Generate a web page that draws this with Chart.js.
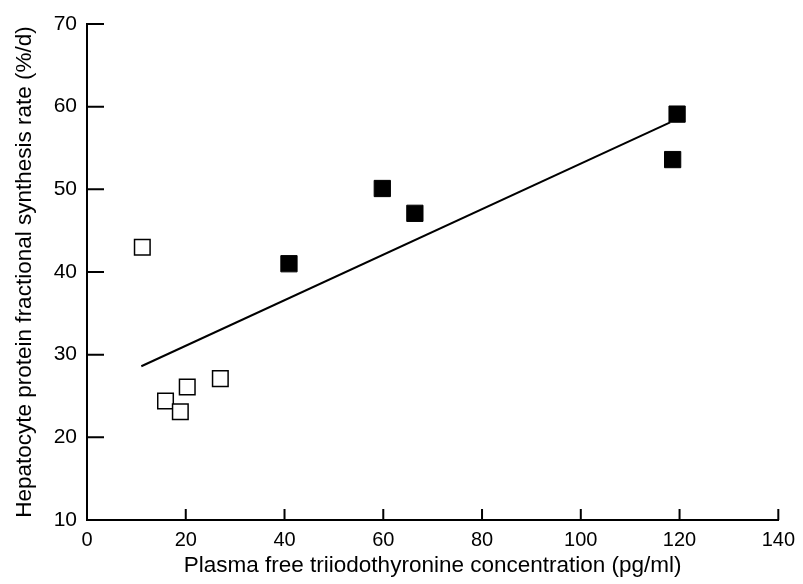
<!DOCTYPE html>
<html>
<head>
<meta charset="utf-8">
<script src="https://cdn.jsdelivr.net/npm/chart.js@4"></script>
<style>
  html, body { margin: 0; padding: 0; background: #fff; }
  #wrap { width: 803px; height: 584px; }
</style>
</head>
<body>
<div id="wrap"><canvas id="chart"></canvas></div>
<script>
// hypothyroid group (open squares)
const openX = [11.2, 15.9, 18.9, 20.3, 27.0];
const openY = [43.0, 24.4, 23.1, 26.1, 27.1];
// euthyroid / treated group (filled squares)
const filledX = [40.9, 59.8, 66.4, 118.6, 119.5];
const filledY = [41.0, 50.1, 47.1, 53.6, 59.1];
// regression line end points
const fitX = [11.0, 118.1];
const fitY = [28.6, 58.1];

const xTicks = [0, 20, 40, 60, 80, 100, 120, 140];
const yTicks = [10, 20, 30, 40, 50, 60, 70];

const toPoints = (xs, ys) => xs.map((v, i) => ({ x: v, y: ys[i] }));

// inward tick marks, drawn from the scales' own tick positions
const innerTicks = {
  id: 'innerTicks',
  afterDraw(chart) {
    const { ctx, chartArea, scales: { x, y } } = chart;
    ctx.save();
    ctx.strokeStyle = '#000';
    ctx.lineWidth = 2;
    ctx.beginPath();
    x.ticks.forEach(t => {
      const px = x.getPixelForValue(t.value);
      ctx.moveTo(px, chartArea.bottom);
      ctx.lineTo(px, chartArea.bottom - 11);
    });
    y.ticks.forEach(t => {
      const py = y.getPixelForValue(t.value);
      ctx.moveTo(chartArea.left, py);
      ctx.lineTo(chartArea.left + 17, py);
    });
    ctx.stroke();
    ctx.restore();
  }
};

const family = '"Liberation Sans", Arial, Helvetica, sans-serif';
const tickFont = { family: family, size: 20 };
const titleFont = { family: family, size: 22.5 };

new Chart(document.getElementById('chart'), {
  type: 'scatter',
  data: {
    datasets: [
      {
        type: 'line',
        data: toPoints(fitX, fitY),
        borderColor: '#000',
        borderWidth: 2,
        pointRadius: 0,
        fill: false
      },
      {
        data: toPoints(openX, openY),
        pointStyle: 'rect',
        pointRadius: 11,
        backgroundColor: '#fff',
        borderColor: '#000',
        borderWidth: 1.5
      },
      {
        data: toPoints(filledX, filledY),
        pointStyle: 'rect',
        pointRadius: 11.5,
        backgroundColor: '#000',
        borderColor: '#000',
        borderWidth: 1
      }
    ]
  },
  options: {
    responsive: true,
    maintainAspectRatio: false,
    animation: false,
    layout: { padding: { left: 0, right: 24, top: 24, bottom: 0 } },
    plugins: { legend: { display: false }, tooltip: { enabled: false } },
    scales: {
      x: {
        type: 'linear',
        min: 0,
        max: 140,
        afterBuildTicks: s => { s.ticks = xTicks.map(v => ({ value: v })); },
        afterFit: s => { s.height = 64; },
        grid: { display: false, drawTicks: false },
        border: { display: true, color: '#000', width: 2 },
        ticks: { color: '#000', font: tickFont, padding: 8 },
        title: {
          display: true,
          text: 'Plasma free triiodothyronine concentration (pg/ml)',
          color: '#000',
          font: titleFont,
          padding: { top: 0, bottom: 5 }
        }
      },
      y: {
        type: 'linear',
        min: 10,
        max: 70,
        afterBuildTicks: s => { s.ticks = yTicks.map(v => ({ value: v })); },
        afterFit: s => { s.width = 87; },
        grid: { display: false, drawTicks: false },
        border: { display: true, color: '#000', width: 2 },
        ticks: { color: '#000', font: { family: family, size: 21 }, padding: 10 },
        title: {
          display: true,
          text: 'Hepatocyte protein fractional synthesis rate (%/d)',
          color: '#000',
          font: titleFont,
          padding: { top: 11, bottom: 0 }
        }
      }
    }
  },
  plugins: [innerTicks]
});
</script>
</body>
</html>
